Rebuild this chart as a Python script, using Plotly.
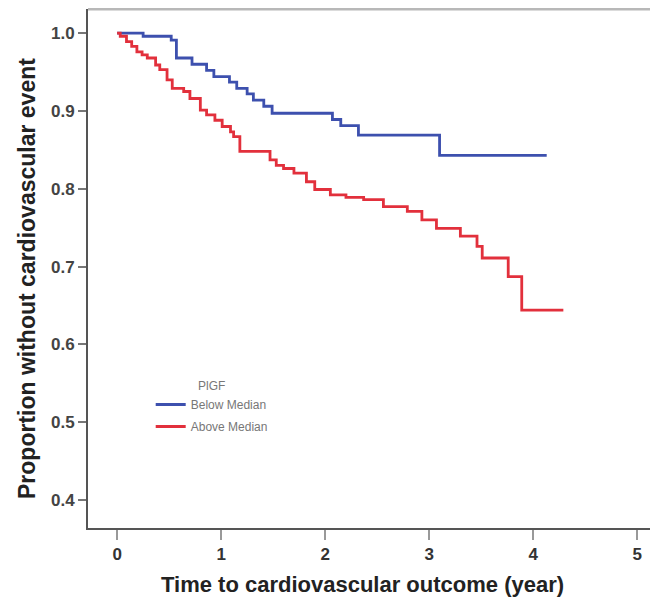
import plotly.graph_objects as go

# Kaplan-Meier step data (time in years, proportion without event)
below_time = [0, 0.25, 0.52, 0.57, 0.72, 0.86, 0.93, 1.08, 1.15, 1.25, 1.31, 1.41, 1.49,
              2.07, 2.15, 2.32, 3.10, 4.13]
below_surv = [1.0, 0.996, 0.991, 0.968, 0.960, 0.952, 0.944, 0.937, 0.929, 0.922, 0.914,
              0.906, 0.897, 0.889, 0.881, 0.869, 0.843, 0.843]

above_time = [0, 0.03, 0.09, 0.14, 0.19, 0.24, 0.29, 0.37, 0.41, 0.48, 0.53, 0.64, 0.70,
              0.80, 0.86, 0.94, 1.01, 1.09, 1.12, 1.18, 1.47, 1.53, 1.60, 1.70, 1.82, 1.90,
              2.05, 2.20, 2.37, 2.56, 2.79, 2.93, 3.07, 3.30, 3.46, 3.51, 3.76, 3.89, 4.29]
above_surv = [1.0, 0.996, 0.989, 0.983, 0.976, 0.972, 0.968, 0.959, 0.953, 0.940, 0.929,
              0.925, 0.916, 0.901, 0.895, 0.888, 0.880, 0.873, 0.867, 0.848, 0.837, 0.830,
              0.826, 0.820, 0.809, 0.799, 0.792, 0.789, 0.786, 0.777, 0.771, 0.760, 0.749,
              0.739, 0.726, 0.711, 0.687, 0.644, 0.644]

x_ticks = [0, 1, 2, 3, 4, 5]
y_ticks = [0.4, 0.5, 0.6, 0.7, 0.8, 0.9, 1.0]
y_tick_labels = ["0.4", "0.5", "0.6", "0.7", "0.8", "0.9", "1.0"]

x_title = "Time to cardiovascular outcome (year)"
y_title = "Proportion without cardiovascular event"
legend_title = "PlGF"

BLUE = "#3D50AE"
RED = "#E2303C"

fig = go.Figure()
fig.add_trace(go.Scatter(x=below_time, y=below_surv, mode="lines", name="Below Median",
                         legendgroup="b",
                         line=dict(color=BLUE, width=2.8, shape="hv")))
fig.add_trace(go.Scatter(x=above_time, y=above_surv, mode="lines", name="Above Median",
                         legendgroup="a",
                         line=dict(color=RED, width=2.8, shape="hv")))

font_main = "Liberation Sans, Arial, sans-serif"

# The page body adds an 8px offset, so the figure is sized 650x598.
PL, PT, PW, PH = 88, 9, 570, 519  # plot area in page pixels

fig.update_layout(
    width=650, height=598,
    margin=dict(l=80, r=0, t=1, b=78),
    paper_bgcolor="white", plot_bgcolor="white",
    font=dict(family=font_main, color="#333"),
    showlegend=True,
    legend=dict(
        x=0.11, y=0.296, xanchor="left", yanchor="top",
        bgcolor="rgba(0,0,0,0)",
        title=dict(text=legend_title, side="top center", font=dict(size=12, color="#777")),
        font=dict(size=12, color="#777"),
        itemwidth=30, tracegroupgap=3,
    ),
    xaxis=dict(
        range=[-0.28, 5.2], tickvals=x_ticks, ticktext=[f"<b>{v}</b>" for v in x_ticks],
        showgrid=False, zeroline=False, automargin=False,
        showline=True, linecolor="#555", linewidth=2,
        ticks="outside", ticklen=10, tickwidth=1.5, tickcolor="#999",
        tickfont=dict(size=17, color="#333", family=font_main),
    ),
    yaxis=dict(
        range=[0.364, 1.031], tickvals=y_ticks, ticktext=[f"<b>{t}</b>" for t in y_tick_labels],
        showgrid=False, zeroline=False, automargin=False,
        showline=True, linecolor="#555", linewidth=2,
        ticks="outside", ticklen=8, tickwidth=1.5, tickcolor="#777",
        tickfont=dict(size=17, color="#444", family=font_main),
    ),
    annotations=[
        dict(text=f"<b>{x_title}</b>", xref="paper", yref="paper",
             x=(362 - PL) / PW, y=-(584 - (PT + PH)) / PH, xanchor="center", yanchor="middle",
             showarrow=False, font=dict(size=22, color="#222", family=font_main)),
        dict(text=f"<b>{y_title}</b>", xref="paper", yref="paper",
             x=-(PL - 27) / PW, y=(PT + PH - 279) / PH, xanchor="center", yanchor="middle",
             textangle=-90, showarrow=False,
             font=dict(size=23, color="#222", family=font_main)),
    ],
)

# grey top frame line
fig.add_shape(type="line", xref="paper", yref="paper", x0=0, x1=1, y0=1, y1=1,
              line=dict(color="#B8B8B8", width=3))

fig.write_html("out.html")
